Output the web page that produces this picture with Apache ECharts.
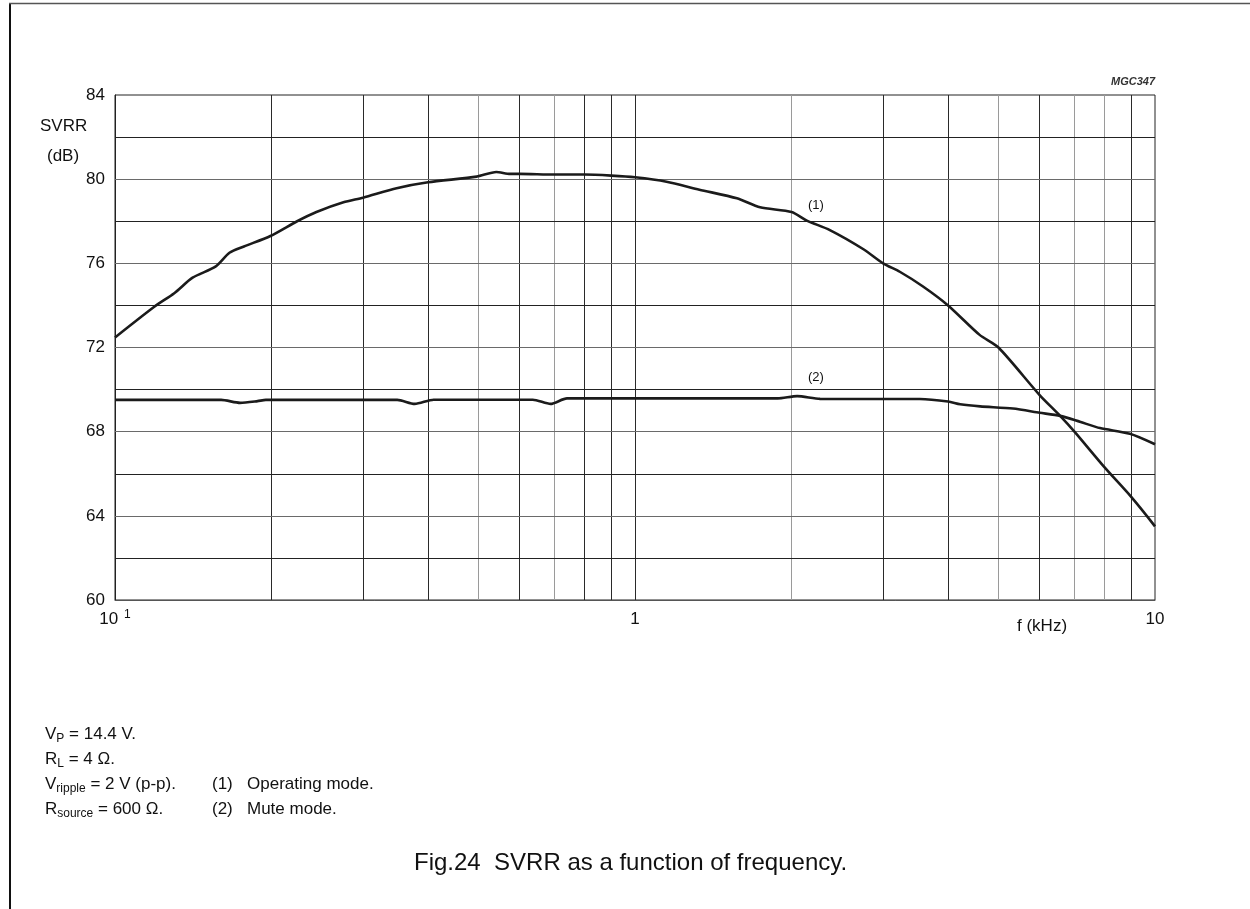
<!DOCTYPE html>
<html><head><meta charset="utf-8">
<script src="https://cdn.jsdelivr.net/npm/echarts@6/dist/echarts.min.js"></script>
<style>html,body{margin:0;padding:0;background:#fff}#c{width:1250px;height:909px}</style>
</head><body><div id="c"></div>
<script>
// ---- data ----
const freqOperating = [0.1, 0.119, 0.13, 0.141, 0.156, 0.166, 0.177, 0.199, 0.224, 0.244, 0.275, 0.3, 0.348, 0.4, 0.496, 0.541, 0.575, 0.6, 0.7, 0.8, 0.9, 1.0, 1.15, 1.33, 1.57, 1.74, 2.0, 2.14, 2.37, 2.75, 3.0, 3.23, 3.58, 4.0, 4.6, 5.0, 6.0, 6.57, 7.0, 8.0, 9.0, 10.0];
const svrrOperating = [72.48, 73.94, 74.58, 75.32, 75.84, 76.5, 76.8, 77.3, 78.0, 78.44, 78.9, 79.12, 79.57, 79.85, 80.12, 80.34, 80.25, 80.25, 80.22, 80.22, 80.17, 80.09, 79.88, 79.5, 79.09, 78.66, 78.44, 78.03, 77.58, 76.67, 76.0, 75.6, 74.9, 74.0, 72.6, 72.0, 69.74, 68.75, 68.0, 66.3, 64.9, 63.5];
const freqMute = [0.1, 0.16, 0.174, 0.188, 0.195, 0.349, 0.377, 0.41, 0.636, 0.688, 0.74, 1.88, 2.05, 2.27, 3.53, 4.0, 4.22, 4.61, 5.33, 6.0, 6.57, 7.17, 7.84, 8.95, 10.0];
const svrrMute = [69.51, 69.51, 69.37, 69.45, 69.51, 69.51, 69.32, 69.52, 69.52, 69.32, 69.58, 69.58, 69.69, 69.56, 69.55, 69.43, 69.3, 69.2, 69.1, 68.9, 68.75, 68.47, 68.17, 67.9, 67.4];
const yMin = 60, yMax = 84, yStep = 2, yLabelStep = 4;
const xMin = 0.1, xMax = 10;
const xGridFreqs = [0.2, 0.3, 0.4, 0.5, 0.6, 0.7, 0.8, 0.9, 1, 2, 3, 4, 5, 6, 7, 8, 9];
const yGridValues = [62, 64, 66, 68, 70, 72, 74, 76, 78, 80, 82];
const seriesNames = ['(1) Operating mode', '(2) Mute mode'];

// ---- styling ----
const FONT = '"Liberation Sans", Arial, Helvetica, sans-serif';
const lightXGrid = [0.5, 0.7, 2, 5, 7, 8];
const lightYGrid = [64, 68, 72, 76, 80];
const zip = (a, b) => a.map((v, i) => [v, b[i]]);

const chart = echarts.init(document.getElementById('c'), null, {renderer: 'canvas'});

const gridMarks = [].concat(
  xGridFreqs.map(f => ({xAxis: f, lineStyle: {color: lightXGrid.includes(f) ? '#9a9a9a' : '#2a2a2a', width: 1, type: 'solid'}})),
  yGridValues.map(v => ({yAxis: v, lineStyle: {color: lightYGrid.includes(v) ? '#6a6a6a' : '#222', width: 1, type: 'solid'}}))
);

const note = (x, y, text) => ({
  type: 'text', left: x, top: y,
  style: {text, font: '17px ' + FONT, fill: '#111', textVerticalAlign: 'middle',
    rich: {
      n: {fontSize: 17, fontFamily: FONT, color: '#111'},
      s: {fontSize: 12, fontFamily: FONT, color: '#111', padding: [8, 0, 0, 0]}
    }}
});

chart.setOption({
  animation: false,
  backgroundColor: '#fff',
  grid: {left: 115, top: 95, width: 1040, height: 505, show: true, borderColor: '#222', borderWidth: 1, backgroundColor: 'transparent'},
  xAxis: {
    type: 'log', logBase: 10, min: xMin, max: xMax,
    axisLine: {show: true, lineStyle: {color: '#555', width: 1}},
    axisTick: {show: false},
    splitLine: {show: false},
    minorSplitLine: {show: false},
    axisLabel: {
      margin: 9, color: '#111', fontSize: 17, fontFamily: FONT,
      formatter: v => {
        const e = Math.round(Math.log10(v));
        if (e < 0) return '{a|10}{s|' + (-e) + '}';
        return '{a|' + Math.pow(10, e) + '}';
      },
      rich: {
        a: {fontSize: 17, fontFamily: FONT, color: '#111', lineHeight: 20},
        s: {fontSize: 12, fontFamily: FONT, color: '#111', padding: [0, 0, 8, 6], lineHeight: 14}
      }
    }
  },
  yAxis: {
    type: 'value', min: yMin, max: yMax, interval: yStep,
    axisLine: {show: true, lineStyle: {color: '#222', width: 1}},
    axisTick: {show: false},
    splitLine: {show: false},
    axisLabel: {
      margin: 10, color: '#111', fontSize: 17, fontFamily: FONT,
      formatter: v => (Math.round(v) % yLabelStep === 0 ? String(Math.round(v)) : '')
    }
  },
  series: [
    {
      type: 'line', data: [], silent: true, z: 1,
      markLine: {silent: true, symbol: 'none', label: {show: false}, animation: false, data: gridMarks}
    },
    {
      name: seriesNames[0], type: 'line', data: zip(freqOperating, svrrOperating),
      showSymbol: false, smooth: 0.25, z: 5,
      lineStyle: {color: '#1b1b1b', width: 2.6}
    },
    {
      name: seriesNames[1], type: 'line', data: zip(freqMute, svrrMute),
      showSymbol: false, smooth: 0.25, z: 5,
      lineStyle: {color: '#1b1b1b', width: 2.6}
    }
  ],
  graphic: [
    {type: 'line', shape: {x1: 10, y1: 3, x2: 10, y2: 909}, style: {stroke: '#111', lineWidth: 2}},
    {type: 'line', shape: {x1: 9, y1: 3.5, x2: 1250, y2: 3.5}, style: {stroke: '#555', lineWidth: 1.5}},
    {type: 'text', left: 40, top: 118, style: {text: 'SVRR', font: '17px ' + FONT, fill: '#111'}},
    {type: 'text', left: 47, top: 148, style: {text: '(dB)', font: '17px ' + FONT, fill: '#111'}},
    {type: 'text', left: 1017, top: 618, style: {text: 'f (kHz)', font: '17px ' + FONT, fill: '#111'}},
    {type: 'text', left: 808, top: 199, style: {text: '(1)', font: '13px ' + FONT, fill: '#111'}},
    {type: 'text', left: 808, top: 371, style: {text: '(2)', font: '13px ' + FONT, fill: '#111'}},
    {type: 'text', right: 95, top: 76, style: {text: 'MGC347', font: 'italic bold 11px ' + FONT, fill: '#333'}},
    note(45, 726, '{n|V}{s|P}{n| = 14.4 V.}'),
    note(45, 751, '{n|R}{s|L}{n| = 4 Ω.}'),
    note(45, 776, '{n|V}{s|ripple}{n| = 2 V (p-p).}'),
    note(45, 801, '{n|R}{s|source}{n| = 600 Ω.}'),
    {type: 'text', left: 212, top: 776, style: {text: '(1)', font: '17px ' + FONT, fill: '#111'}},
    {type: 'text', left: 247, top: 776, style: {text: 'Operating mode.', font: '17px ' + FONT, fill: '#111'}},
    {type: 'text', left: 212, top: 801, style: {text: '(2)', font: '17px ' + FONT, fill: '#111'}},
    {type: 'text', left: 247, top: 801, style: {text: 'Mute mode.', font: '17px ' + FONT, fill: '#111'}},
    {type: 'text', left: 414, top: 851, style: {text: 'Fig.24  SVRR as a function of frequency.', font: '24px ' + FONT, fill: '#111'}}
  ]
});
</script>
</body></html>
